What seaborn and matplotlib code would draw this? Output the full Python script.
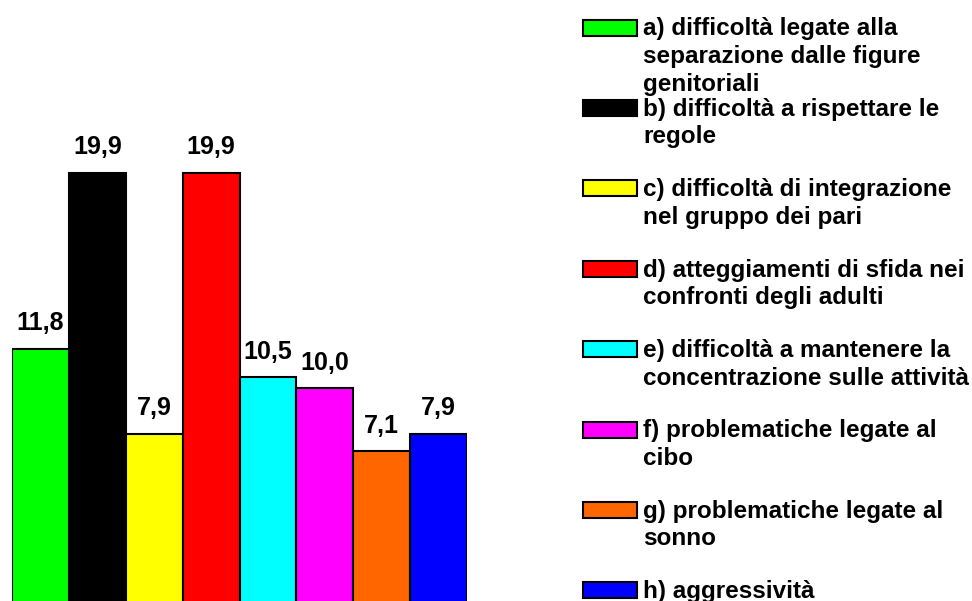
import matplotlib
matplotlib.use("Agg")
import matplotlib.pyplot as plt
import matplotlib.patches as mpatches
import seaborn as sns
import pandas as pd

# DATI
categorie = ["a", "b", "c", "d", "e", "f", "g", "h"]
valori = [11.8, 19.9, 7.9, 19.9, 10.5, 10.0, 7.1, 7.9]
colori = ["#00FF00", "#000000", "#FFFF00", "#FF0000",
          "#00FFFF", "#FF00FF", "#FF6600", "#0000FF"]
etichette = [
    "a) difficoltà legate alla\nseparazione dalle figure\ngenitoriali",
    "b) difficoltà a rispettare le\nregole",
    "c) difficoltà di integrazione\nnel gruppo dei pari",
    "d) atteggiamenti di sfida nei\nconfronti degli adulti",
    "e) difficoltà a mantenere la\nconcentrazione sulle attività",
    "f) problematiche legate al\ncibo",
    "g) problematiche legate al\nsonno",
    "h) aggressività",
]

df = pd.DataFrame({"categoria": categorie, "valore": valori})

sns.set_style("white")
plt.rcParams["font.family"] = ["Liberation Sans", "DejaVu Sans"]
plt.rcParams["text.color"] = "black"

W, H = 972, 601
fig = plt.figure(figsize=(W / 100, H / 100), dpi=100)

# asse: barre da x=12 a x=467 px, base a y=606 px
ax = fig.add_axes([12 / W, (H - 606) / H, 455 / W, 25 * 21.77 / H])
sns.barplot(data=df, x="categoria", y="valore", hue="categoria",
            palette=colori, legend=False, width=1.0,
            edgecolor="black", linewidth=1.5, saturation=1, ax=ax)
ax.set_xlim(-0.5, 7.5)
ax.set_ylim(0, 25)
ax.axis("off")

# ETICHETTE DEI VALORI
for i, v in enumerate(valori):
    ax.annotate(f"{v:.1f}".replace(".", ","), (i, v), xytext=(0, 13.5),
                textcoords="offset points", ha="center", va="baseline",
                fontsize=18, fontweight="bold", color="black")

# LEGENDA
for i, (col, lab) in enumerate(zip(colori, etichette)):
    top = 19.5 + i * 80.4
    rect = mpatches.Rectangle((583 / W, 1 - (top + 16) / H), 54 / W, 16 / H,
                              transform=fig.transFigure, facecolor=col,
                              edgecolor="black", linewidth=1.5)
    fig.add_artist(rect)
    for k, riga in enumerate(lab.split("\n")):
        fig.text(643 / W, 1 - (top + 16 + k * 27.5) / H, riga, ha="left",
                 va="baseline", fontsize=17.5, fontweight="bold",
                 color="black")

plt.savefig("out.png", dpi=100)
